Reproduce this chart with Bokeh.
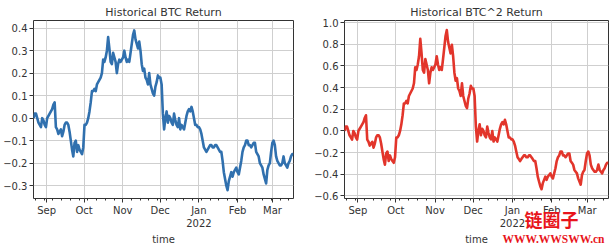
import pandas as pd
from bokeh.plotting import figure
from bokeh.layouts import row
from bokeh.models import Range1d, FixedTicker, Label, Column
from bokeh.embed import file_html
from bokeh.resources import INLINE

start = "2021-08-21 12:00"
end = "2022-03-17 19:00"

btc_return = [
    0.00, 0.02, 0.02, 0.00, -0.02, -0.03, -0.04, 0.00, -0.01, -0.03,
    -0.04, 0.00, 0.01, 0.02, 0.03, 0.04, 0.06, 0.07, -0.04, -0.05,
    -0.07, -0.06, -0.05, -0.08, -0.06, -0.03, -0.02, -0.02, -0.03, -0.06,
    -0.10, -0.14, -0.17, -0.11, -0.10, -0.15, -0.12, -0.14, -0.15, -0.16,
    -0.13, -0.03, -0.03, -0.02, 0.00, 0.03, 0.07, 0.12, 0.12, 0.13,
    0.12, 0.15, 0.16, 0.17, 0.18, 0.20, 0.26, 0.25, 0.27, 0.30,
    0.36, 0.31, 0.25, 0.24, 0.29, 0.27, 0.25, 0.20, 0.24, 0.26,
    0.25, 0.26, 0.27, 0.30, 0.27, 0.25, 0.26, 0.25, 0.29, 0.33,
    0.37, 0.39, 0.35, 0.33, 0.31, 0.34, 0.30, 0.24, 0.21, 0.22,
    0.18, 0.17, 0.15, 0.20, 0.15, 0.13, 0.11, 0.10, 0.14, 0.16,
    0.19, 0.18, 0.18, 0.15, 0.02, -0.05, 0.00, 0.03, -0.02, 0.01,
    0.00, -0.02, -0.03, 0.02, -0.01, -0.03, -0.04, 0.00, -0.05, -0.03,
    -0.04, -0.05, -0.02, 0.01, 0.03, 0.04, 0.03, 0.05, 0.03, 0.00,
    -0.03, -0.03, -0.04, -0.04, -0.05, -0.07, -0.10, -0.13, -0.14, -0.15,
    -0.14, -0.13, -0.12, -0.12, -0.13, -0.13, -0.12, -0.12, -0.13, -0.14,
    -0.15, -0.15, -0.19, -0.24, -0.27, -0.30, -0.32, -0.28, -0.26, -0.24,
    -0.26, -0.24, -0.23, -0.22, -0.24, -0.25, -0.22, -0.19, -0.15, -0.13,
    -0.12, -0.10, -0.10, -0.12, -0.12, -0.13, -0.12, -0.11, -0.11, -0.15,
    -0.16, -0.17, -0.20, -0.21, -0.22, -0.25, -0.27, -0.29, -0.23, -0.21,
    -0.20, -0.15, -0.11, -0.10, -0.12, -0.17, -0.19, -0.20, -0.21, -0.21,
    -0.20, -0.17, -0.20, -0.21, -0.22, -0.20, -0.19, -0.17, -0.16, -0.16,
]

btc2_return = [
    0.00, 0.04, 0.04, 0.00, -0.04, -0.06, -0.08, 0.00, -0.02, -0.06,
    -0.08, 0.00, 0.02, 0.04, 0.06, 0.08, 0.12, 0.145, -0.08, -0.10,
    -0.135, -0.116, -0.10, -0.154, -0.116, -0.06, -0.04, -0.04, -0.06, -0.116,
    -0.19, -0.26, -0.311, -0.208, -0.19, -0.278, -0.226, -0.26, -0.278, -0.294,
    -0.243, -0.06, -0.06, -0.04, 0.00, 0.061, 0.145, 0.254, 0.254, 0.277,
    0.254, 0.323, 0.346, 0.369, 0.392, 0.44, 0.588, 0.563, 0.613, 0.69,
    0.85, 0.716, 0.563, 0.538, 0.664, 0.613, 0.563, 0.44, 0.538, 0.588,
    0.563, 0.588, 0.613, 0.69, 0.613, 0.563, 0.588, 0.563, 0.664, 0.769,
    0.877, 0.932, 0.823, 0.769, 0.716, 0.796, 0.69, 0.538, 0.464, 0.488,
    0.392, 0.369, 0.323, 0.44, 0.323, 0.277, 0.232, 0.21, 0.30, 0.346,
    0.416, 0.392, 0.392, 0.323, 0.04, -0.098, 0.00, 0.061, -0.04, 0.02,
    0.00, -0.04, -0.06, 0.04, -0.02, -0.06, -0.078, 0.00, -0.098, -0.06,
    -0.078, -0.098, -0.04, 0.02, 0.061, 0.082, 0.061, 0.103, 0.061, 0.00,
    -0.06, -0.06, -0.078, -0.078, -0.098, -0.135, -0.19, -0.243, -0.26, -0.278,
    -0.26, -0.243, -0.226, -0.226, -0.243, -0.243, -0.226, -0.226, -0.243, -0.26,
    -0.278, -0.278, -0.344, -0.422, -0.467, -0.51, -0.538, -0.482, -0.452, -0.422,
    -0.452, -0.422, -0.407, -0.392, -0.422, -0.438, -0.392, -0.344, -0.278, -0.243,
    -0.226, -0.19, -0.19, -0.226, -0.226, -0.243, -0.226, -0.208, -0.208, -0.278,
    -0.294, -0.311, -0.36, -0.376, -0.392, -0.438, -0.467, -0.496, -0.407, -0.376,
    -0.36, -0.278, -0.208, -0.19, -0.226, -0.311, -0.344, -0.36, -0.376, -0.376,
    -0.36, -0.311, -0.36, -0.376, -0.392, -0.36, -0.344, -0.311, -0.294, -0.294,
]

month_ticks = ["2021-09-01", "2021-10-01", "2021-11-01", "2021-12-01",
               "2022-01-01", "2022-02-01", "2022-03-01"]
month_labels = ["Sep", "Oct", "Nov", "Dec", "Jan\n2022", "Feb", "Mar"]

left_ticks = [0.4, 0.3, 0.2, 0.1, 0.0, -0.1, -0.2, -0.3]
right_ticks = [1.0, 0.8, 0.6, 0.4, 0.2, 0.0, -0.2, -0.4, -0.6]

titles = ["Historical BTC Return", "Historical BTC^2 Return"]
colors = ["#3070ae", "#e2352b"]
watermark = ["链圈子", "WWW.WWSWW.cn"]

times = pd.date_range(start, end, periods=len(btc_return))


def ms(t):
    return pd.Timestamp(t).value / 1e6


major_ms = [ms(t) for t in month_ticks]
minor_ms = [ms(t) for t in pd.date_range("2021-08-23", end, freq="W-MON")
            if pd.Timestamp(t).day != 1]


def fmt(v):
    return ("%.1f" % v).replace("-", "\u2212")


def make(title, yvals, color, yticks, yr, width, bl, br, bt, bb):
    p = figure(width=width, height=247, x_axis_type="datetime",
               output_backend="svg", toolbar_location=None,
               x_range=Range1d(ms(start), ms(end)), y_range=Range1d(*yr),
               min_border_left=bl, min_border_right=br,
               min_border_top=bt, min_border_bottom=bb)
    p.title.text = title
    p.title.align = "center"
    p.title.text_font = "DejaVu Sans"
    p.title.text_font_size = "11px"
    p.title.text_font_style = "normal"
    p.title.text_color = "#333333"
    p.title.standoff = 4
    p.title.offset = 0
    p.line(times, yvals, line_color=color, line_width=2.6,
           line_join="round")
    p.xaxis.ticker = FixedTicker(ticks=major_ms, minor_ticks=minor_ms)
    p.xaxis.major_label_overrides = dict(zip(major_ms, month_labels))
    p.yaxis.ticker = FixedTicker(ticks=yticks)
    p.yaxis.major_label_overrides = {v: fmt(v) for v in yticks}
    p.xaxis.axis_label = "time"
    for ax in (p.xaxis, p.yaxis):
        ax.major_label_text_font = "DejaVu Sans"
        ax.major_label_text_font_size = "10px"
        ax.major_label_text_color = "#333333"
        ax.axis_line_color = None
        ax.major_tick_line_color = "#333333"
        ax.minor_tick_line_color = "#333333"
        ax.major_tick_out = 4
        ax.major_tick_in = 0
        ax.minor_tick_out = 2
        ax.minor_tick_in = 0
        ax.major_label_standoff = 2
    p.yaxis.minor_tick_line_color = None
    p.xaxis.axis_label_text_font = "DejaVu Sans"
    p.xaxis.axis_label_text_font_size = "10px"
    p.xaxis.axis_label_text_font_style = "normal"
    p.xaxis.axis_label_text_color = "#333333"
    p.xaxis.axis_label_standoff = 2
    p.grid.grid_line_color = "#cfcfcf"
    p.grid.grid_line_width = 1
    p.outline_line_color = "#333333"
    p.outline_line_width = 1
    p.background_fill_color = "white"
    return p


p1 = make(titles[0], btc_return, colors[0], left_ticks, (-0.357, 0.434),
          300, 29, 7, 19, 41)
p2 = make(titles[1], btc2_return, colors[1], right_ticks, (-0.624, 1.02),
          314, 44, 6, 20, 40)

# transparent overlay pulled back over p2 carrying the watermark
p3 = figure(width=314, height=247, output_backend="svg", toolbar_location=None,
            x_axis_location=None, y_axis_location=None,
            min_border=0, x_range=Range1d(0, 314), y_range=Range1d(0, 247))
p3.grid.visible = False
p3.outline_line_color = None
p3.background_fill_alpha = 0
p3.border_fill_alpha = 0
p3.add_layout(Label(x=251, y=29, text=watermark[0], text_color="#e8141b",
                    text_font="Noto Sans CJK SC", text_font_style="bold",
                    text_font_size="18px", text_align="center",
                    text_baseline="middle"))
p3.add_layout(Label(x=253, y=9, text=watermark[1], text_color="#e8141b",
                    text_font="Liberation Serif", text_font_style="bold",
                    text_font_size="11.5px", text_align="center",
                    text_baseline="middle"))
overlay = Column(p3, styles={"margin-left": "-314px"})

layout = row(p1, p2, overlay)
open("out.html", "w").write(file_html(layout, INLINE))
